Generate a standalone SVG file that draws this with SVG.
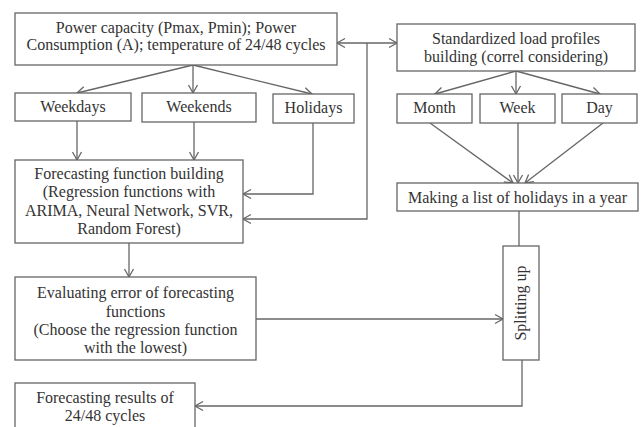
<svg xmlns="http://www.w3.org/2000/svg" width="643" height="427" viewBox="0 0 643 427">
<style>
rect{fill:#fff;stroke:#666;stroke-width:1.3}
text{font-size:16px;fill:#333;text-anchor:middle}
#connectors path,#connectors line{fill:none;stroke:#666;stroke-width:1.3}
</style>
<defs>
<marker id="ah" markerUnits="userSpaceOnUse" markerWidth="12" markerHeight="12" refX="9" refY="5" orient="auto-start-reverse" viewBox="0 0 12 10">
<path d="M1,0.5 L9,5 L1,9.5" fill="none" stroke="#666" stroke-width="1.3"/>
</marker>
</defs>
<rect width="643" height="427" style="stroke:none;fill:#fff"/>
<g id="connectors">
<line x1="193" y1="65" x2="77" y2="93" marker-end="url(#ah)"/>
<line x1="193" y1="65" x2="193" y2="93" marker-end="url(#ah)"/>
<line x1="193" y1="65" x2="312" y2="94" marker-end="url(#ah)"/>
<line x1="337" y1="43" x2="397" y2="43" marker-start="url(#ah)" marker-end="url(#ah)"/>
<path d="M367,43 V219 H243" marker-end="url(#ah)"/>
<line x1="516" y1="71" x2="435" y2="94" marker-end="url(#ah)"/>
<line x1="516" y1="71" x2="516" y2="94" marker-end="url(#ah)"/>
<line x1="516" y1="71" x2="600" y2="94" marker-end="url(#ah)"/>
<line x1="77" y1="121" x2="77" y2="160" marker-end="url(#ah)"/>
<line x1="194" y1="122" x2="194" y2="160" marker-end="url(#ah)"/>
<path d="M313,123 V194 H243" marker-end="url(#ah)"/>
<line x1="430" y1="123" x2="513" y2="183" marker-end="url(#ah)"/>
<line x1="518" y1="123" x2="518" y2="183" marker-end="url(#ah)"/>
<line x1="603" y1="123" x2="525" y2="183" marker-end="url(#ah)"/>
<line x1="129" y1="243" x2="129" y2="277" marker-end="url(#ah)"/>
<line x1="519" y1="211" x2="519" y2="246"/>
<line x1="256" y1="319" x2="503" y2="319" marker-end="url(#ah)"/>
<path d="M522,360 V406 H195" marker-end="url(#ah)"/>
</g>
<g font-family="Liberation Serif, Tinos, DejaVu Serif, serif">
<g id="power">
<rect x="15" y="13" width="322" height="52"/>
<text x="176" y="33">Power capacity (Pmax, Pmin); Power</text>
<text x="176" y="50">Consumption (A); temperature of 24/48 cycles</text>
</g>
<g id="standardized">
<rect x="397" y="24" width="238" height="47"/>
<text x="516" y="44">Standardized load profiles</text>
<text x="516" y="62">building (correl considering)</text>
</g>
<g id="weekdays">
<rect x="15" y="93" width="116" height="28"/>
<text x="73" y="112">Weekdays</text>
</g>
<g id="weekends">
<rect x="142" y="93" width="114" height="29"/>
<text x="199" y="112">Weekends</text>
</g>
<g id="holidays">
<rect x="273" y="94" width="81" height="29"/>
<text x="313.5" y="113">Holidays</text>
</g>
<g id="month">
<rect x="397" y="94" width="75" height="29"/>
<text x="434.5" y="113">Month</text>
</g>
<g id="week">
<rect x="480" y="94" width="75" height="29"/>
<text x="517.5" y="113">Week</text>
</g>
<g id="day">
<rect x="562" y="94" width="75" height="29"/>
<text x="599.5" y="113">Day</text>
</g>
<g id="forecasting">
<rect x="15" y="160" width="228" height="83"/>
<text x="129" y="179">Forecasting function building</text>
<text x="129" y="197">(Regression functions with</text>
<text x="129" y="216">ARIMA, Neural Network, SVR,</text>
<text x="129" y="234">Random Forest)</text>
</g>
<g id="holidaylist">
<rect x="397" y="183" width="241" height="28"/>
<text x="517.5" y="203">Making a list of holidays in a year</text>
</g>
<g id="splitting">
<rect x="503" y="246" width="36" height="114"/>
<text transform="translate(526,303) rotate(-90)">Splitting up</text>
</g>
<g id="evaluating">
<rect x="15" y="277" width="241" height="83"/>
<text x="135.5" y="298">Evaluating error of forecasting</text>
<text x="135.5" y="317">functions</text>
<text x="135.5" y="335">(Choose the regression function</text>
<text x="135.5" y="353">with the lowest)</text>
</g>
<g id="results">
<rect x="15" y="383" width="180" height="60"/>
<text x="105" y="403">Forecasting results of</text>
<text x="105" y="421">24/48 cycles</text>
</g>
</g>
</svg>
